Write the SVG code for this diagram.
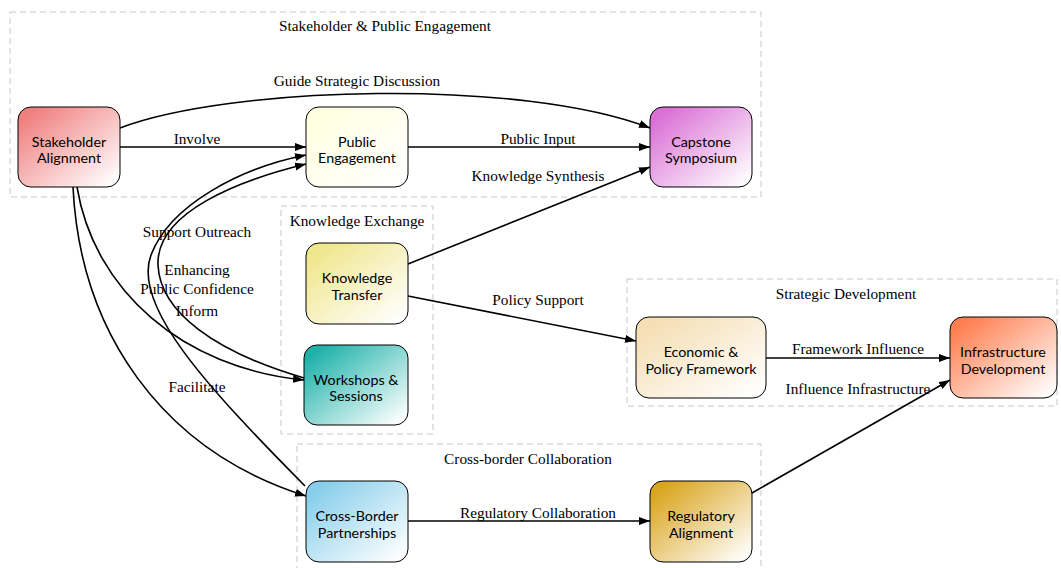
<svg xmlns="http://www.w3.org/2000/svg" width="1061" height="568" viewBox="0 0 1061 568">
<style>
.cl{fill:none;stroke:#c8c8c8;stroke-width:1;stroke-dasharray:6,4}
.ct{font-family:"Liberation Serif",serif;font-size:15.3px;fill:#000;text-anchor:middle}
.nd{stroke:#000;stroke-width:1}
.nt{font-family:Lato,"Open Sans",sans-serif;font-size:14.3px;fill:#000;text-anchor:middle}
.e{fill:none;stroke:#000;stroke-width:1.6;marker-end:url(#ah)}
.et{font-family:"Liberation Serif",serif;font-size:15.3px;fill:#000;text-anchor:middle}
</style>
<defs>
<marker id="ah" markerUnits="userSpaceOnUse" markerWidth="12" markerHeight="9" refX="11" refY="4" orient="auto"><path d="M0,0 L11,4 L0,8 z" fill="#000"/></marker>
<linearGradient id="g1" x1="0" y1="0" x2="1" y2="1"><stop offset="0.1" stop-color="#F08080"/><stop offset="0.95" stop-color="#fff"/></linearGradient>
<linearGradient id="g2" x1="0" y1="0" x2="1" y2="1"><stop offset="0.1" stop-color="#FFFFE0"/><stop offset="0.95" stop-color="#fff"/></linearGradient>
<linearGradient id="g3" x1="0" y1="0" x2="1" y2="1"><stop offset="0.1" stop-color="#DA70D6"/><stop offset="0.95" stop-color="#fff"/></linearGradient>
<linearGradient id="g4" x1="0" y1="0" x2="1" y2="1"><stop offset="0.1" stop-color="#F0E68C"/><stop offset="0.95" stop-color="#fff"/></linearGradient>
<linearGradient id="g5" x1="0" y1="0" x2="1" y2="1"><stop offset="0.1" stop-color="#20B2AA"/><stop offset="0.95" stop-color="#fff"/></linearGradient>
<linearGradient id="g6" x1="0" y1="0" x2="1" y2="1"><stop offset="0.1" stop-color="#F5DEB3"/><stop offset="0.95" stop-color="#fff"/></linearGradient>
<linearGradient id="g7" x1="0" y1="0" x2="1" y2="1"><stop offset="0.1" stop-color="#FF7F50"/><stop offset="0.95" stop-color="#fff"/></linearGradient>
<linearGradient id="g8" x1="0" y1="0" x2="1" y2="1"><stop offset="0.1" stop-color="#87CEEB"/><stop offset="0.95" stop-color="#fff"/></linearGradient>
<linearGradient id="g9" x1="0" y1="0" x2="1" y2="1"><stop offset="0.1" stop-color="#DAA520"/><stop offset="0.95" stop-color="#fff"/></linearGradient>
</defs>
<rect width="1061" height="568" fill="#fff"/>
<g id="clusters">
<g id="cluster_engagement"><rect class="cl" x="10" y="12" width="751" height="185"/><text class="ct" x="385" y="31">Stakeholder &amp; Public Engagement</text></g>
<g id="cluster_knowledge"><rect class="cl" x="281" y="206" width="152" height="228"/><text class="ct" x="357" y="226">Knowledge Exchange</text></g>
<g id="cluster_strategic"><rect class="cl" x="627" y="279" width="430" height="127"/><text class="ct" x="846" y="299">Strategic Development</text></g>
<g id="cluster_crossborder"><rect class="cl" x="297" y="444" width="464" height="130"/><text class="ct" x="528" y="464">Cross-border Collaboration</text></g>
</g>
<g id="connectors">
<path class="e" d="M120,147 L306,147"/>
<text class="et" x="197" y="144">Involve</text>
<path class="e" d="M120,128 C230,86 520,78 650,128" stroke-width="2"/>
<text class="et" x="357" y="86">Guide Strategic Discussion</text>
<path class="e" d="M408,147 L650,147"/>
<text class="et" x="538" y="144">Public Input</text>
<path class="e" d="M408,264 L650,167"/>
<text class="et" x="538" y="181">Knowledge Synthesis</text>
<path class="e" d="M408,296 L636,341"/>
<text class="et" x="538" y="305">Policy Support</text>
<path class="e" d="M766,358 L950,358"/>
<text class="et" x="858" y="354">Framework Influence</text>
<path class="e" d="M752,493 L950,380"/>
<text class="et" x="858" y="394">Influence Infrastructure</text>
<path class="e" d="M408,521 L650,521"/>
<text class="et" x="538" y="518">Regulatory Collaboration</text>
<path class="e" d="M77,187 C94,290 182,368 304,380"/>
<path class="e" d="M73,187 C80,330 160,450 306,496"/>
<path class="e" d="M305,486 C205,385 132,305 151,255 C170,205 240,168 306,155"/>
<path class="e" d="M304,378 C215,352 160,312 158,265 C156,212 240,180 306,164"/>
<text class="et" x="197" y="237">Support Outreach</text>
<text class="et" x="197" y="275">Enhancing</text>
<text class="et" x="197" y="294">Public Confidence</text>
<text class="et" x="197" y="316">Inform</text>
<text class="et" x="197" y="392">Facilitate</text>
</g>
<g id="n_stakeholder"><rect class="nd" x="18" y="107" width="102" height="80" rx="13" fill="url(#g1)"/><text class="nt" x="69" y="146.5">Stakeholder</text><text class="nt" x="69" y="163">Alignment</text></g>
<g id="n_public"><rect class="nd" x="306" y="107" width="102" height="80" rx="13" fill="url(#g2)"/><text class="nt" x="357" y="146.5">Public</text><text class="nt" x="357" y="163">Engagement</text></g>
<g id="n_capstone"><rect class="nd" x="650" y="107" width="102" height="80" rx="13" fill="url(#g3)"/><text class="nt" x="701" y="146.5">Capstone</text><text class="nt" x="701" y="163">Symposium</text></g>
<g id="n_knowledge"><rect class="nd" x="306" y="243" width="102" height="81" rx="13" fill="url(#g4)"/><text class="nt" x="357" y="283">Knowledge</text><text class="nt" x="357" y="299.5">Transfer</text></g>
<g id="n_workshops"><rect class="nd" x="304" y="345" width="104" height="80" rx="13" fill="url(#g5)"/><text class="nt" x="356" y="384.5">Workshops &amp;</text><text class="nt" x="356" y="401">Sessions</text></g>
<g id="n_economic"><rect class="nd" x="636" y="317" width="130" height="81" rx="13" fill="url(#g6)"/><text class="nt" x="701" y="357">Economic &amp;</text><text class="nt" x="701" y="373.5">Policy Framework</text></g>
<g id="n_infra"><rect class="nd" x="950" y="317" width="107" height="81" rx="13" fill="url(#g7)"/><text class="nt" x="1003" y="357">Infrastructure</text><text class="nt" x="1003" y="373.5">Development</text></g>
<g id="n_crossborder"><rect class="nd" x="306" y="481" width="102" height="81" rx="13" fill="url(#g8)"/><text class="nt" x="357" y="521">Cross-Border</text><text class="nt" x="357" y="537.5">Partnerships</text></g>
<g id="n_regulatory"><rect class="nd" x="650" y="481" width="102" height="81" rx="13" fill="url(#g9)"/><text class="nt" x="701" y="521">Regulatory</text><text class="nt" x="701" y="537.5">Alignment</text></g>
</svg>
